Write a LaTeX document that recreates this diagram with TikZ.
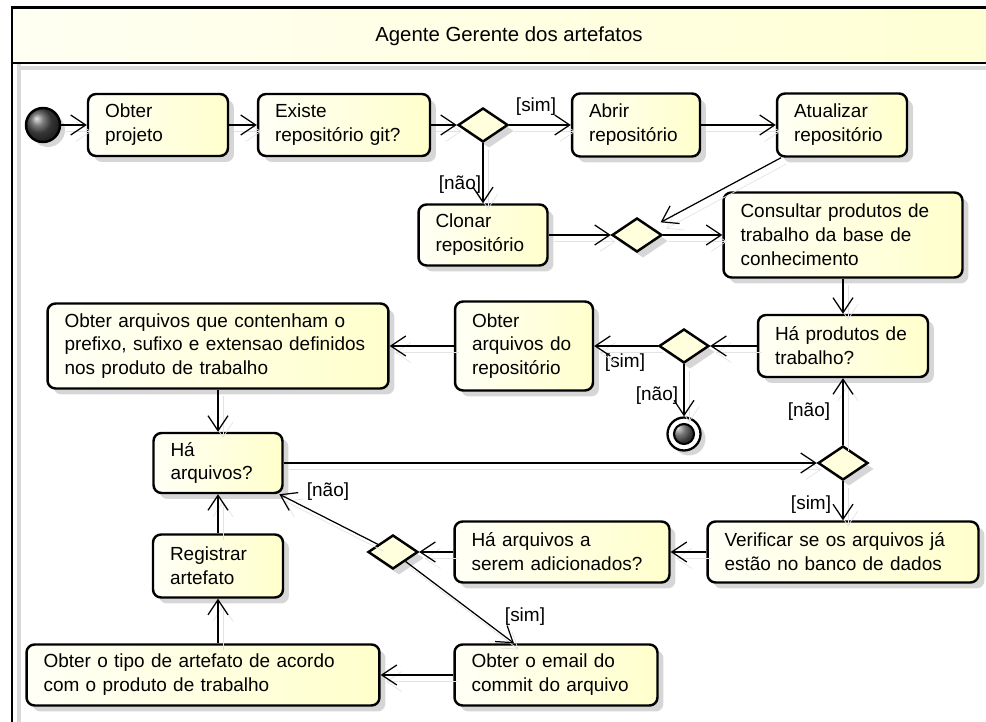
\documentclass[tikz,border=0pt]{standalone}
\usepackage{fontspec}
\setmainfont{Liberation Sans}
\usetikzlibrary{arrows.meta}
\usetikzlibrary{shapes.geometric}
\usetikzlibrary{shadows}
\definecolor{boxlight}{RGB}{255,255,246}
\definecolor{boxdark}{RGB}{255,255,204}
\definecolor{headlight}{RGB}{255,255,242}
\definecolor{headdark}{RGB}{255,255,212}
\definecolor{losango}{RGB}{255,255,222}
\tikzset{
  acao/.style={draw, line width=1.4pt, rounded corners=0.16cm, left color=boxlight, right color=boxdark,
    align=left, inner xsep=0.34cm, inner ysep=0pt, font=\fontsize{10.8pt}{13.6pt}\selectfont,
    drop shadow={shadow xshift=0.12cm, shadow yshift=-0.12cm, fill=black!16, opacity=1}},
  decisao/.style={diamond, draw, line width=1.4pt, fill=losango, minimum width=1cm, minimum height=0.68cm,
    inner sep=0pt, drop shadow={shadow xshift=0.12cm, shadow yshift=-0.12cm, fill=black!16, opacity=1}},
  inicio/.style={circle, draw, line width=1.4pt, minimum size=0.68cm, inner sep=0pt, ball color=black!70,
    drop shadow={shadow xshift=0.1cm, shadow yshift=-0.1cm, fill=black!16, opacity=1}},
  fim/.style={circle, draw, line width=1.3pt, minimum size=0.66cm, inner sep=0pt, fill=white,
    drop shadow={shadow xshift=0.1cm, shadow yshift=-0.1cm, fill=black!16, opacity=1},
    path picture={\shadedraw[ball color=black!70, line width=1.2pt] (path picture bounding box.center) circle (0.2cm);}},
  fluxo/.style={-{Straight Barb[length=0.3cm,width=0.4cm]}, line width=0.7pt,
    preaction={draw=black!11, transform canvas={shift={(0.1cm,-0.13cm)}}}},
  guarda/.style={inner sep=1pt, font=\fontsize{10.8pt}{12pt}\selectfont},
  titulo/.style={font=\fontsize{11.6pt}{13pt}\selectfont}
}
\begin{document}
\begin{tikzpicture}[x=0.02cm,y=-0.02cm]
\useasboundingbox (0,0) rectangle (986,722);
\clip (0,0) rectangle (986,722);
% raia
\draw[black!15, line width=2pt] (19,14) -- (19,740);
\draw[black!15, line width=2pt] (19,68) -- (1000,68);
\draw[line width=1.7pt, left color=headlight, right color=headdark] (12,8) rectangle (1000,63);
\draw[line width=1.7pt] (12,63) -- (12,740);
\node[titulo] (titulo) at (509,36) {Agente Gerente dos artefatos};
% nos
\node[inicio] (ini) at (43,125) {};
\node[acao, text width=2.12cm, minimum height=1.24cm] (obter) at (158,125) {Obter\\projeto};
\node[acao, text width=2.76cm, minimum height=1.24cm] (existe) at (344,125) {Existe\\repositório git?};
\node[decisao] (d1) at (483,125) {};
\node[acao, text width=1.88cm, minimum height=1.26cm] (abrir) at (636,125) {Abrir\\repositório};
\node[acao, text width=1.92cm, minimum height=1.26cm] (atual) at (842,125) {Atualizar\\repositório};
\node[acao, text width=1.90cm, minimum height=1.22cm] (clonar) at (483,235) {Clonar\\repositório};
\node[decisao] (d2) at (637,235) {};
\node[acao, text width=4.10cm, minimum height=1.70cm] (consultar) at (843,235) {Consultar produtos de\\trabalho da base de\\conhecimento};
\node[acao, text width=2.72cm, minimum height=1.24cm] (haprod) at (843,346) {Há produtos de\\trabalho?};
\node[decisao] (d3) at (684,346) {};
\node[fim] (final) at (684,434) {};
\node[acao, text width=2.08cm, minimum height=1.78cm] (obtrepo) at (524,346) {Obter\\arquivos do\\repositório};
\node[acao, text width=6.14cm, minimum height=1.70cm] (obtpref) at (218,346) {Obter arquivos que contenham o\\prefixo, sufixo e extensao definidos\\nos produto de trabalho};
\node[acao, text width=1.90cm, minimum height=1.20cm] (haarq) at (218,463) {Há\\arquivos?};
\node[decisao] (d4) at (843,463) {};
\node[acao, text width=4.74cm, minimum height=1.22cm] (verif) at (843,552) {Verificar se os arquivos já\\estão no banco de dados};
\node[acao, text width=3.62cm, minimum height=1.22cm] (haadd) at (562,552) {Há arquivos a\\serem adicionados?};
\node[decisao] (d5) at (393,552) {};
\node[acao, text width=1.92cm, minimum height=1.26cm] (registrar) at (218,566) {Registrar\\artefato};
\node[acao, text width=6.38cm, minimum height=1.22cm] (tipo) at (203,675) {Obter o tipo de artefato de acordo\\com o produto de trabalho};
\node[acao, text width=3.38cm, minimum height=1.22cm] (email) at (556,675) {Obter o email do\\commit do arquivo};
% guardas
\node[guarda] (g1) at (536,107) {[sim]};
\node[guarda] (g2) at (460,185) {[não]};
\node[guarda] (g3) at (625,363) {[sim]};
\node[guarda] (g4) at (657,396) {[não]};
\node[guarda] (g5) at (809,412) {[não]};
\node[guarda] (g6) at (811,505) {[sim]};
\node[guarda] (g7) at (328,492) {[não]};
\node[guarda] (g8) at (525,617) {[sim]};
% fluxos
\draw[fluxo] (ini) -- (obter);
\draw[fluxo] (obter) -- (existe);
\draw[fluxo] (existe) -- (d1);
\draw[fluxo] (d1) -- (abrir);
\draw[fluxo] (d1) -- (clonar);
\draw[fluxo] (abrir) -- (atual);
\draw[fluxo, shorten >=0.2cm] (atual) -- (d2);
\draw[fluxo] (clonar) -- (d2);
\draw[fluxo] (d2) -- (consultar);
\draw[fluxo] (consultar) -- (haprod);
\draw[fluxo] (haprod) -- (d3);
\draw[fluxo] (d3) -- (obtrepo);
\draw[fluxo] (d3) -- (final);
\draw[fluxo] (obtrepo) -- (obtpref);
\draw[fluxo] (obtpref) -- (haarq);
\draw[fluxo] (haarq) -- (d4);
\draw[fluxo] (d4) -- (haprod);
\draw[fluxo] (d4) -- (verif);
\draw[fluxo] (verif) -- (haadd);
\draw[fluxo] (haadd) -- (d5);
\draw[fluxo] (d5) -- (haarq);
\draw[fluxo] (d5) -- (email);
\draw[fluxo] (email) -- (tipo);
\draw[fluxo] (registrar.south |- tipo.north) -- (registrar);
\draw[fluxo] (registrar) -- (haarq);
\end{tikzpicture}
\end{document}
